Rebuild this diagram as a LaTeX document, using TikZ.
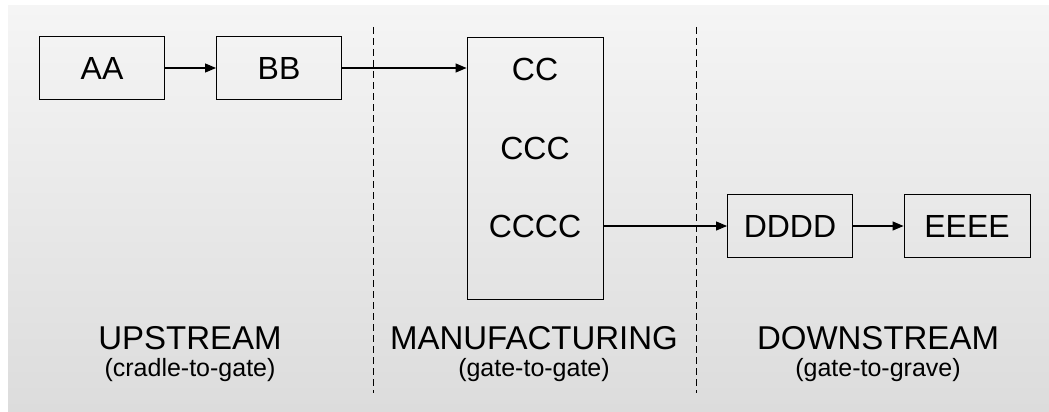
\documentclass[tikz,border=0pt]{standalone}
\usepackage{fontspec}
\setmainfont{Liberation Sans}
\usetikzlibrary{arrows.meta}
\definecolor{bgtop}{HTML}{F5F5F5}
\definecolor{bgbottom}{HTML}{DCDCDC}

\begin{document}
\begin{tikzpicture}[x=1pt,y=-1pt,
	  box/.style={draw, line width=0.9pt, minimum width=125pt, minimum height=63pt, inner sep=0pt, font=\fontsize{32}{36}\selectfont},
	  txt/.style={font=\fontsize{32}{36}\selectfont},
	  phase/.style={font=\fontsize{33}{38}\selectfont},
	  sub/.style={font=\fontsize{25}{28}\selectfont},
	  flow/.style={line width=1.1pt, -{Triangle[length=11pt,width=9pt]}},
	  border/.style={dash pattern=on 7pt off 4pt, line width=0.8pt}]
	  \useasboundingbox (0,0) rectangle (1049,412);
	  \shade[top color=bgtop, bottom color=bgbottom] (8,6) rectangle (1049,412);
	  
	  \node[box] (AA) at (102,68) {AA};
	  \node[box] (BB) at (279,68) {BB};
	  \node[draw, line width=0.9pt, minimum width=136pt, minimum height=262pt] (CC) at (535,168) {};
	  \node[txt] (c1) at (535,69) {CC};
	  \node[txt] (c2) at (535,148) {CCC};
	  \node[txt] (c3) at (535,226) {CCCC};
	  \node[box] (DD) at (790,226) {DDDD};
	  \node[box, minimum width=126pt] (EE) at (967,226) {EEEE};
	  
	  \coordinate (b1top) at (373,27);
	  \coordinate (b1bot) at (373,393);
	  \coordinate (b2top) at (696,27);
	  \coordinate (b2bot) at (696,393);
	  \draw[border] (b1top) -- (b1bot);
	  \draw[border] (b2top) -- (b2bot);
	  
	  \node[phase] (up) at (190,338) {UPSTREAM};
	  \node[sub] (upsub) at (190,370) {(cradle-to-gate)};
	  \node[phase] (man) at (534,338) {MANUFACTURING};
	  \node[sub] (mansub) at (534,370) {(gate-to-gate)};
	  \node[phase] (down) at (878,338) {DOWNSTREAM};
	  \node[sub] (downsub) at (878,370) {(gate-to-grave)};
	  
	  \draw[flow] (AA) -- (BB);
	  \draw[flow] (BB.east) -- (BB.east -| CC.west);
	  \draw[flow] (c3 -| CC.east) -- (DD);
	  \draw[flow] (DD) -- (EE);
	\end{tikzpicture}
\end{document}
